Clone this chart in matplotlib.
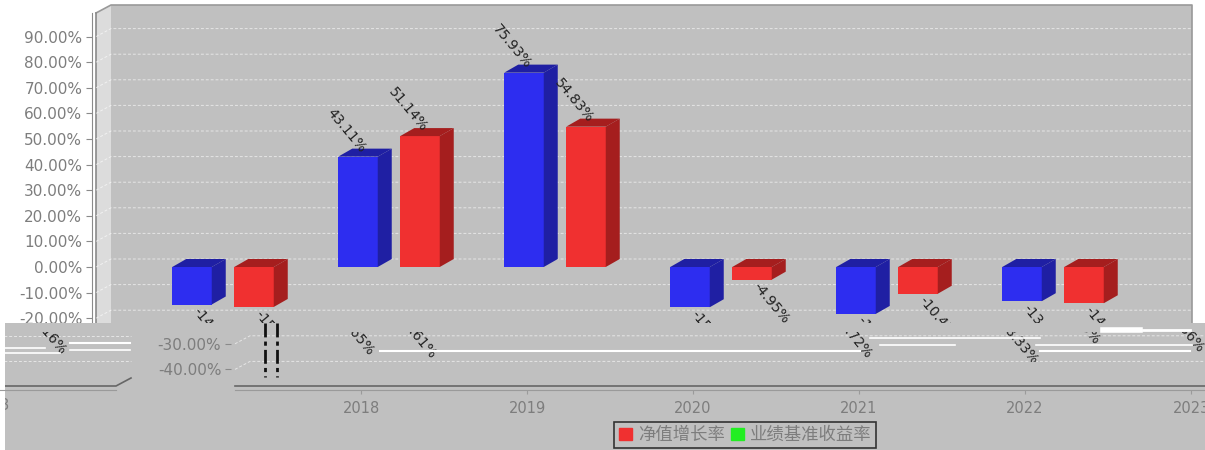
"""Grouped pseudo-3D return bars, including the torn lower band of the source image."""

import matplotlib

matplotlib.use("Agg")
import matplotlib.pyplot as plt
from matplotlib.lines import Line2D
from matplotlib.patches import Patch, Polygon, Rectangle

YEARS = ["2018", "2019", "2020", "2021", "2022", "2023"]
NAV_GROWTH = [-14.65, 43.11, 75.93, -15.72, -18.33, -13.36]
BENCHMARK = [-15.61, 51.14, 54.83, -4.95, -10.45, -14.16]
Y_TICKS = [-40, -30, -20, -10, 0, 10, 20, 30, 40, 50, 60, 70, 80, 90]
LEGEND_LABELS = ["净值增长率", "业绩基准收益率"]

# Tear artefacts in image pixels: (y, x start, x end, width)
WHITE_STREAKS = [
    (330, 1103, 1140, 4.0),
    (330, 1143, 1190, 2.0),
    (338, 870, 1040, 1.2),
    (343, 70, 130, 1.5),
    (345, 880, 955, 1.2),
    (345, 1036, 1192, 1.2),
    (348, 5, 45, 1.2),
    (350, 70, 130, 1.2),
    (351, 380, 860, 1.5),
    (351, 1040, 1190, 1.5),
    (353, 5, 60, 1.2),
]
TEAR_DASHES = [265, 277]

WIDTH, HEIGHT = 1205, 450
TEAR_Y = 323
SHIFT = 139
PX_PER_GROUP = 166
PX_PER_PERCENT = 2.56
GROUP_ZERO_PX = 222
ZERO_PX = 267

GREY_BG = "#c0c0c0"
TEXT_GREY = "#7d7d7d"
BLUE, BLUE_DARK = "#2d2df0", "#1f1fa3"
RED, RED_DARK = "#f03030", "#a51e1e"


def x_data(px):
    return (px - GROUP_ZERO_PX) / PX_PER_GROUP


def y_data(px):
    return (ZERO_PX - px) / PX_PER_PERCENT


LEFT, RIGHT = x_data(96), x_data(1177)
TOP, FLOOR = y_data(13), y_data(386)
WALL_DX, WALL_DY = 15 / PX_PER_GROUP, 8 / PX_PER_PERCENT
BAR_DX, BAR_DY = 14 / PX_PER_GROUP, 8 / PX_PER_PERCENT
BAR_W = 39.5 / PX_PER_GROUP


def draw_bars(ax, values, offset, front, dark):
    xs = [i + offset for i in range(len(values))]
    ax.bar(xs, values, BAR_W, color=front, zorder=5)
    for x, v in zip(xs, values):
        hi, lo = max(v, 0), min(v, 0)
        r = x + BAR_W / 2
        ax.add_patch(Polygon([(r, lo), (r + BAR_DX, lo + BAR_DY), (r + BAR_DX, hi + BAR_DY), (r, hi)], color=dark, lw=0, zorder=5))
        ax.add_patch(Polygon([(x - BAR_W / 2, hi), (x - BAR_W / 2 + BAR_DX, hi + BAR_DY), (r + BAR_DX, hi + BAR_DY), (r, hi)], color=dark, lw=0, zorder=5))


def draw_labels(ax, values, offset, clip):
    for i, v in enumerate(values):
        if v >= 0:
            label = ax.annotate(f"{v:.2f}%", (i + offset, v), xytext=(5, 6), textcoords="offset pixels",
                                ha="right", va="center", rotation=-50, rotation_mode="anchor",
                                fontsize=10, color="#222222", annotation_clip=False, zorder=7)
        else:
            label = ax.annotate(f"{v:.2f}%", (i + offset, v), xytext=(3, -5), textcoords="offset pixels",
                                ha="left", va="center", rotation=-50, rotation_mode="anchor",
                                fontsize=10, color="#222222", annotation_clip=False, zorder=7)
        label.set_clip_on(True)
        label.set_clip_path(clip)


def draw_chart(ax, xlim, ylim, upper):
    ax.set_xlim(xlim)
    ax.set_ylim(ylim)
    # walls only survive above the tear, below it everything sits on flat grey
    if upper:
        ax.add_patch(Rectangle((LEFT + WALL_DX, FLOOR + WALL_DY), RIGHT - LEFT, TOP - FLOOR, color=GREY_BG, lw=0, zorder=1))
        ax.add_patch(Polygon([(LEFT, FLOOR), (LEFT + WALL_DX, FLOOR + WALL_DY), (LEFT + WALL_DX, TOP + WALL_DY), (LEFT, TOP)], color="#dcdcdc", lw=0, zorder=1))
        ax.plot([LEFT, LEFT + WALL_DX, RIGHT + WALL_DX, RIGHT + WALL_DX], [TOP, TOP + WALL_DY, TOP + WALL_DY, FLOOR + WALL_DY], color="#999999", lw=1.2, zorder=2)
        ax.plot([LEFT, LEFT], [FLOOR, TOP], color="#8a8a8a", lw=1.2, zorder=2)

    for tick in Y_TICKS:
        ax.plot([LEFT, LEFT + WALL_DX, RIGHT + WALL_DX], [tick, tick + WALL_DY, tick + WALL_DY], color="white", lw=0.7, ls=(0, (3, 2)), alpha=0.6, zorder=3)
    ax.plot([LEFT, RIGHT, RIGHT + WALL_DX], [FLOOR, FLOOR, FLOOR + WALL_DY], color="#666666", lw=1.2, zorder=3)

    draw_bars(ax, NAV_GROWTH, -30 / PX_PER_GROUP, BLUE, BLUE_DARK)
    draw_bars(ax, BENCHMARK, 32 / PX_PER_GROUP, RED, RED_DARK)

    # labels are shredded in the band apart from the middle rows
    if upper:
        clip = ax.patch
    else:
        clip = Rectangle((xlim[0], y_data(362)), xlim[1] - xlim[0], y_data(332) - y_data(362), transform=ax.transData)
    draw_labels(ax, NAV_GROWTH, -30 / PX_PER_GROUP, clip)
    draw_labels(ax, BENCHMARK, 32 / PX_PER_GROUP, clip)

    for name in ["top", "right"]:
        ax.spines[name].set_visible(False)
    ax.spines["left"].set_position(("data", x_data(92)))
    ax.spines["left"].set_bounds(y_data(323), TOP)
    ax.spines["left"].set_color("#8a8a8a")
    ax.spines["left"].set_visible(upper)
    ax.spines["bottom"].set_position(("data", y_data(390)))
    ax.spines["bottom"].set_bounds(LEFT, RIGHT)
    ax.spines["bottom"].set_color("#9a9a9a")
    ax.spines["bottom"].set_visible(not upper)

    ax.set_yticks(Y_TICKS, [f"{t:.2f}%" for t in Y_TICKS])
    ax.tick_params(axis="y", length=4, pad=3, color="#8a8a8a", labelcolor=TEXT_GREY, labelsize=11)
    ax.set_xticks(range(len(YEARS)), YEARS)
    ax.tick_params(axis="x", length=3, pad=5, color="#9a9a9a", labelcolor=TEXT_GREY, labelsize=10.5, bottom=not upper, labelbottom=not upper)

    # set_xticks / set_yticks widen the view, put it back
    ax.set_xlim(xlim)
    ax.set_ylim(ylim)


def band_axes(fig, x0, x1, real_x0):
    ax = fig.add_axes([x0 / WIDTH, 0, (x1 - x0) / WIDTH, (HEIGHT - TEAR_Y) / HEIGHT])
    ax.set_facecolor(GREY_BG)
    draw_chart(ax, (x_data(real_x0), x_data(real_x0 + x1 - x0)), (y_data(HEIGHT), y_data(TEAR_Y)), False)
    return ax


def fig_line(fig, xs, ys, **kwargs):
    fig.add_artist(Line2D([x / WIDTH for x in xs], [1 - y / HEIGHT for y in ys], **kwargs))


fig = plt.figure(figsize=(WIDTH / 100, HEIGHT / 100), dpi=100, facecolor="white")

ax_top = fig.add_axes([0, 1 - TEAR_Y / HEIGHT, 1, TEAR_Y / HEIGHT])
ax_top.set_facecolor("white")
draw_chart(ax_top, (x_data(0), x_data(WIDTH)), (y_data(TEAR_Y), y_data(0)), True)

# lower band is displaced to the right and wraps round to the left edge
ax_band = band_axes(fig, SHIFT, WIDTH, 0)
ax_wrap = band_axes(fig, 5, SHIFT, WIDTH - SHIFT)
ax_wrap.text(len(YEARS) - 1, y_data(406), YEARS[-1], ha="center", va="center", fontsize=10.5, color=TEXT_GREY, clip_on=True)

handles = [Patch(color="#f03030"), Patch(color="#22ee22")]
legend = ax_band.legend(
    handles, LEGEND_LABELS, loc="center", bbox_to_anchor=(x_data(606), y_data(435)), bbox_transform=ax_band.transData,
    ncol=2, frameon=True, fancybox=False, facecolor=GREY_BG, edgecolor="#333333", framealpha=1,
    prop={"family": ["Noto Sans CJK SC", "DejaVu Sans"], "size": 12.5}, labelcolor=TEXT_GREY,
    handlelength=0.75, handleheight=0.75, handletextpad=0.35, columnspacing=0.35, borderpad=0.25, borderaxespad=0,
)
legend.get_frame().set_linewidth(1.2)

for y, x0, x1, lw in WHITE_STREAKS:
    fig_line(fig, [x0, x1], [y, y], color="white", lw=lw, zorder=10)
for x in TEAR_DASHES:
    fig_line(fig, [x, x], [323, 377], color="#111111", lw=2, ls=(0, (5, 1.5, 1.5, 1.5)), zorder=10)

fig.savefig("out.png", dpi=100)
